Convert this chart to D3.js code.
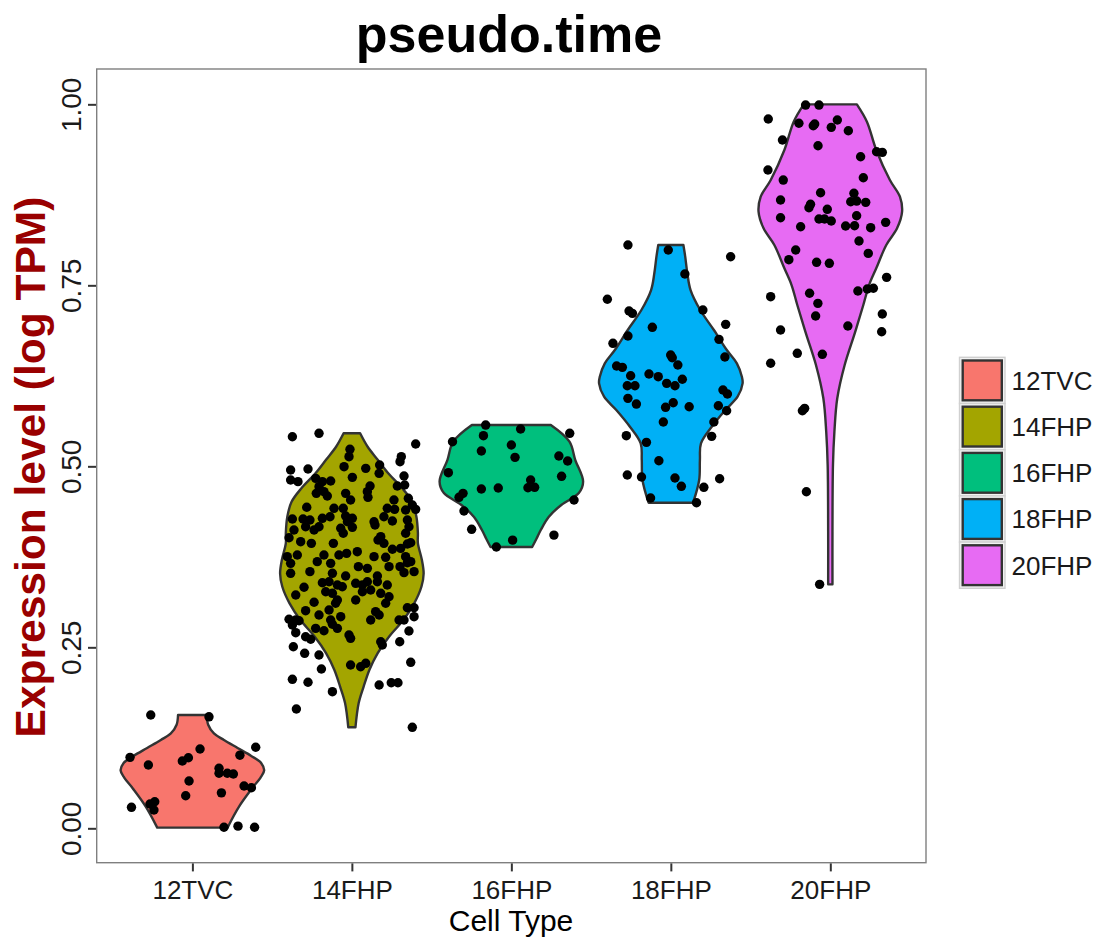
<!DOCTYPE html>
<html>
<head>
<meta charset="utf-8">
<script src="https://cdn.jsdelivr.net/npm/d3@7"></script>
<style>
  body { margin: 0; background: #fff; }
  text { font-family: "Liberation Sans", Arial, sans-serif; }
</style>
</head>
<body>
<div id="chart"></div>
<script>
const categories = ['12TVC', '14FHP', '16FHP', '18FHP', '20FHP'];
const fillColors = ['#F8766D', '#A3A500', '#00BF7D', '#00B0F6', '#E76BF3'];
const yTicks = [0, 0.25, 0.5, 0.75, 1];

// violin outlines: [value, half-width relative to the widest violin]
const violin12TVC = [[0.1565, 0.20], [0.143, 0.22], [0.131, 0.30], [0.122, 0.44], [0.111, 0.63], [0.100, 0.82],
  [0.090, 0.96], [0.080, 1.0], [0.070, 0.95], [0.055, 0.83], [0.030, 0.65], [0.001, 0.49]];
const violin14FHP = [[0.5456, 0.115], [0.527, 0.22], [0.509, 0.36], [0.490, 0.51], [0.470, 0.70], [0.451, 0.84],
  [0.430, 0.90], [0.408, 0.92], [0.394, 0.92], [0.371, 0.975], [0.352, 1.0], [0.334, 0.97], [0.311, 0.87],
  [0.288, 0.72], [0.265, 0.52], [0.242, 0.36], [0.219, 0.245], [0.196, 0.165], [0.173, 0.095], [0.1395, 0.05]];
const violin16FHP = [[0.557, 0.55], [0.534, 0.81], [0.509, 0.89], [0.479, 1.0], [0.463, 0.94], [0.447, 0.70],
  [0.430, 0.52], [0.412, 0.41], [0.400, 0.35], [0.3885, 0.29]];
const violin18FHP = [[0.8057, 0.175], [0.790, 0.20], [0.7666, 0.23], [0.7435, 0.275], [0.7159, 0.41], [0.6883, 0.60],
  [0.6606, 0.78], [0.6423, 0.92], [0.6238, 0.99], [0.6146, 1.0], [0.5961, 0.93], [0.5778, 0.76], [0.5547, 0.57],
  [0.5318, 0.42], [0.5087, 0.405], [0.4811, 0.395], [0.4497, 0.31]];
const violin20FHP = [[1.0, 0.37], [0.976, 0.51], [0.937, 0.64], [0.8955, 0.83], [0.8724, 0.97], [0.8517, 1.0],
  [0.8287, 0.93], [0.8057, 0.78], [0.7735, 0.64], [0.7504, 0.54], [0.7228, 0.46], [0.6837, 0.34], [0.64, 0.20],
  [0.594, 0.097], [0.5478, 0.057], [0.5018, 0.037], [0.41, 0.03], [0.337, 0.03]];

// jittered cells: [horizontal jitter in category units, expression value]
const points12TVC = [[-0.261, 0.1565], [0.104, 0.154], [0.048, 0.1095], [0.397, 0.112], [0.298, 0.101], [-0.391, 0.098],
  [-0.276, 0.0874], [-0.063, 0.093], [-0.025, 0.0975], [-0.021, 0.0653], [0.167, 0.0829], [0.167, 0.076], [0.219, 0.076],
  [0.257, 0.075], [0.324, 0.0584], [0.37, 0.056], [0.182, 0.049], [-0.042, 0.045], [-0.382, 0.029], [-0.266, 0.0336],
  [-0.236, 0.0367], [-0.241, 0.0253], [0.198, 0.0014], [0.286, 0.003], [0.39, 0.0014]];
const points14FHP = [[-0.373, 0.5409], [-0.206, 0.5456], [0.400, 0.5308], [-0.012, 0.5235], [-0.018, 0.5133],
  [0.310, 0.5133], [0.302, 0.5064], [-0.384, 0.4949], [-0.275, 0.4963], [-0.049, 0.4995], [0.087, 0.4972],
  [0.174, 0.5018], [0.171, 0.4903], [0.003, 0.4848], [0.327, 0.4866], [-0.384, 0.4811], [-0.338, 0.4788],
  [-0.227, 0.4834], [-0.185, 0.4788], [-0.133, 0.4797], [-0.206, 0.4719], [-0.175, 0.4650], [-0.223, 0.4627],
  [-0.154, 0.459], [0.285, 0.4728], [0.331, 0.4742], [0.114, 0.4728], [0.097, 0.4650], [0.101, 0.4572],
  [-0.039, 0.4627], [-0.008, 0.4535], [0.264, 0.4535], [0.354, 0.4558], [0.379, 0.4465], [-0.283, 0.4434],
  [-0.112, 0.442], [-0.054, 0.442], [0.222, 0.442], [0.268, 0.4406], [0.337, 0.4396], [0.400, 0.4406],
  [-0.373, 0.4272], [-0.306, 0.4272], [-0.263, 0.4258], [-0.185, 0.4282], [-0.137, 0.4304], [-0.039, 0.4314],
  [0.003, 0.4282], [-0.028, 0.4235], [0.201, 0.4304], [0.139, 0.4235], [0.254, 0.4245], [0.348, 0.4258],
  [-0.363, 0.412], [-0.290, 0.4166], [-0.237, 0.412], [-0.206, 0.4166], [-0.070, 0.4144], [-0.054, 0.4075],
  [0.003, 0.4157], [0.145, 0.4189], [0.358, 0.4166], [0.337, 0.4075], [-0.394, 0.4014], [-0.321, 0.3959],
  [-0.254, 0.3936], [-0.116, 0.3936], [0.181, 0.4028], [0.164, 0.3982], [0.201, 0.3936], [0.348, 0.3927],
  [0.369, 0.3945], [-0.405, 0.3752], [-0.342, 0.3775], [-0.175, 0.3775], [-0.081, 0.3775], [-0.033, 0.3798],
  [0.034, 0.3821], [0.139, 0.3752], [0.212, 0.3743], [0.254, 0.3854], [0.306, 0.3867], [0.337, 0.3752],
  [0.369, 0.3683], [-0.384, 0.366], [-0.217, 0.3683], [-0.133, 0.366], [0.041, 0.3614], [0.097, 0.3591],
  [0.233, 0.3614], [0.302, 0.3614], [0.348, 0.3669], [-0.384, 0.3522], [-0.263, 0.3545], [-0.122, 0.3522],
  [-0.039, 0.3485], [0.160, 0.3485], [0.327, 0.3531], [0.390, 0.3545],
  [-0.300, 0.3329], [-0.185, 0.3392], [-0.143, 0.3406], [-0.091, 0.3361], [-0.060, 0.3337], [0.024, 0.3384],
  [0.066, 0.3361], [0.097, 0.3406], [0.160, 0.3406], [0.222, 0.3361], [-0.352, 0.3222], [-0.164, 0.3268],
  [-0.122, 0.3246], [0.066, 0.3268], [0.118, 0.3291], [0.181, 0.3246], [0.233, 0.3199], [-0.091, 0.3153],
  [-0.102, 0.3108], [-0.237, 0.3122], [0.024, 0.3153], [0.212, 0.3108], [0.348, 0.3047], [0.390, 0.3047],
  [-0.290, 0.3006], [-0.143, 0.3015], [-0.206, 0.2946], [-0.070, 0.2923], [0.149, 0.2992], [0.171, 0.2946],
  [-0.394, 0.2887], [-0.352, 0.2877], [-0.331, 0.2867], [-0.133, 0.2877], [0.118, 0.2877], [0.296, 0.2877],
  [0.327, 0.2877], [0.390, 0.2923], [-0.373, 0.2808], [-0.122, 0.2818], [-0.227, 0.2762], [-0.175, 0.2729],
  [-0.091, 0.2762], [-0.352, 0.2702], [0.358, 0.2725], [-0.290, 0.2646], [-0.258, 0.2611], [-0.018, 0.267],
  [-0.008, 0.2624], [0.181, 0.2577], [0.191, 0.2532], [0.300, 0.2577], [-0.367, 0.2508], [-0.296, 0.2417],
  [-0.206, 0.2394], [-0.008, 0.2256], [0.055, 0.2232], [0.087, 0.2279], [0.369, 0.2293], [-0.191, 0.22],
  [-0.373, 0.2058], [-0.275, 0.2017], [-0.122, 0.1887], [0.171, 0.1979], [0.247, 0.2011], [0.289, 0.2011],
  [-0.348, 0.1648], [0.379, 0.1395]];
const points16FHP = [[-0.161, 0.557], [0.058, 0.5515], [0.366, 0.5456], [-0.369, 0.534], [-0.175, 0.5423],
  [0.0, 0.5294], [-0.188, 0.5211], [0.023, 0.5124], [0.298, 0.5142], [0.353, 0.5073], [-0.395, 0.4912],
  [0.315, 0.4862], [0.121, 0.4811], [0.104, 0.4704], [0.146, 0.471], [-0.188, 0.4687], [-0.082, 0.47],
  [-0.303, 0.4627], [-0.328, 0.4572], [0.393, 0.4535], [-0.297, 0.4383], [-0.249, 0.413], [0.267, 0.405],
  [0.008, 0.398], [-0.094, 0.3885]];
const points18FHP = [[-0.269, 0.8057], [-0.016, 0.7988], [0.375, 0.7895], [0.088, 0.7656], [-0.398, 0.7307],
  [0.201, 0.7159], [-0.262, 0.7145], [-0.241, 0.7113], [-0.116, 0.692], [0.344, 0.6961], [-0.269, 0.68],
  [0.302, 0.6754], [-0.363, 0.6699], [-0.001, 0.6537], [0.009, 0.65], [0.044, 0.6399], [0.339, 0.651],
  [-0.340, 0.6385], [-0.304, 0.6367], [-0.252, 0.6251], [-0.137, 0.6275], [-0.079, 0.6238], [0.072, 0.6202],
  [-0.026, 0.6146], [0.026, 0.6113], [-0.273, 0.6113], [-0.225, 0.6113], [0.327, 0.6054], [0.355, 0.5999],
  [-0.269, 0.5939], [-0.216, 0.586], [-0.033, 0.5815], [0.015, 0.5878], [0.115, 0.5823], [0.298, 0.5837],
  [0.350, 0.5768], [-0.047, 0.5612], [0.270, 0.5612], [-0.279, 0.5423], [-0.153, 0.5331], [0.256, 0.5414],
  [-0.075, 0.5077], [-0.273, 0.488], [-0.184, 0.4852], [0.026, 0.4838], [0.066, 0.4724], [0.207, 0.471],
  [0.306, 0.4829], [-0.127, 0.4562], [0.161, 0.4497]];
const points20FHP = [[-0.155, 0.999], [-0.071, 0.999], [-0.389, 0.9797], [-0.197, 0.9738], [-0.098, 0.9728],
  [-0.107, 0.9704], [0.044, 0.9783], [0.006, 0.9682], [0.113, 0.9635], [-0.300, 0.9507], [-0.077, 0.9428],
  [0.290, 0.9345], [0.326, 0.9337], [0.190, 0.9276], [-0.391, 0.9093], [-0.295, 0.8954], [0.207, 0.8986],
  [-0.061, 0.8779], [0.148, 0.8771], [-0.312, 0.8678], [-0.124, 0.8619], [-0.134, 0.8572], [0.128, 0.8655],
  [0.165, 0.8664], [0.222, 0.8646], [-0.019, 0.855], [-0.312, 0.8434], [-0.071, 0.8416], [-0.036, 0.8416],
  [0.006, 0.8388], [-0.186, 0.8309], [0.096, 0.8319], [0.152, 0.8323], [0.165, 0.8461], [0.253, 0.8296],
  [0.347, 0.837], [0.180, 0.8112], [-0.217, 0.7988], [0.238, 0.7942], [-0.260, 0.7854], [-0.086, 0.7818],
  [-0.006, 0.7804], [0.353, 0.761], [-0.374, 0.7343], [-0.130, 0.739], [-0.078, 0.7251], [0.173, 0.7421],
  [0.232, 0.7449], [0.270, 0.7459], [-0.092, 0.7076], [0.326, 0.7104], [0.110, 0.6938], [-0.312, 0.6883],
  [0.322, 0.6859], [-0.207, 0.6561], [-0.050, 0.6547], [-0.374, 0.6423], [-0.175, 0.5768], [-0.161, 0.5801],
  [-0.150, 0.4649], [-0.067, 0.337]];

const violins = [violin12TVC, violin14FHP, violin16FHP, violin18FHP, violin20FHP];
const pointSets = [points12TVC, points14FHP, points16FHP, points18FHP, points20FHP];

const W = 1098, H = 943;
const panel = { left: 96.7, right: 926, top: 69, bottom: 862.7 };
const font = '"Liberation Sans", Arial, sans-serif';

const svg = d3.select('#chart').append('svg')
  .attr('width', W).attr('height', H)
  .style('display', 'block');

const x = d3.scalePoint().domain(categories).range([panel.left, panel.right]).padding(0.6);
const y = d3.scaleLinear().domain([-0.0475, 1.0488]).range([panel.bottom, panel.top]);
const maxHalf = x.step() * 0.45;

// violins
categories.forEach((cat, i) => {
  const cx = x(cat);
  const area = d3.area()
    .y(d => y(d[0]))
    .x0(d => cx - d[1] * maxHalf)
    .x1(d => cx + d[1] * maxHalf)
    .curve(d3.curveCatmullRom.alpha(0.5));
  svg.append('path')
    .datum(violins[i])
    .attr('d', area)
    .attr('fill', fillColors[i])
    .attr('stroke', '#333333')
    .attr('stroke-width', 2.4)
    .attr('stroke-linejoin', 'round');
});

// jittered points
categories.forEach((cat, i) => {
  svg.append('g')
    .selectAll('circle')
    .data(pointSets[i])
    .join('circle')
    .attr('cx', d => x(cat) + d[0] * x.step())
    .attr('cy', d => y(d[1]))
    .attr('r', 4.7)
    .attr('fill', '#000');
});

// panel border
svg.append('rect')
  .attr('x', panel.left).attr('y', panel.top)
  .attr('width', panel.right - panel.left).attr('height', panel.bottom - panel.top)
  .attr('fill', 'none').attr('stroke', '#7f7f7f').attr('stroke-width', 1.4);

// x axis
const xAxis = svg.append('g')
  .attr('transform', `translate(0,${panel.bottom + 0.7})`)
  .call(d3.axisBottom(x).tickSize(8).tickPadding(6));
xAxis.select('.domain').remove();
xAxis.selectAll('line').attr('stroke', '#333').attr('stroke-width', 2);
xAxis.selectAll('text')
  .attr('font-family', font).attr('font-size', 26).attr('fill', '#1a1a1a')
  .attr('dy', null).attr('y', 35.5);

// y axis
const yAxis = svg.append('g')
  .attr('transform', `translate(${panel.left - 0.7},0)`)
  .call(d3.axisLeft(y).tickValues(yTicks).tickFormat(d3.format('.2f')).tickSize(8));
yAxis.select('.domain').remove();
yAxis.selectAll('line').attr('stroke', '#333').attr('stroke-width', 2);
yAxis.selectAll('text')
  .attr('font-family', font).attr('font-size', 28).attr('fill', '#1a1a1a')
  .attr('x', null).attr('dy', null)
  .attr('text-anchor', 'middle')
  .attr('transform', 'translate(-15,0) rotate(-90)');

// titles
svg.append('text')
  .attr('x', 509).attr('y', 51.5)
  .attr('text-anchor', 'middle')
  .attr('font-family', font).attr('font-weight', 'bold').attr('font-size', 52)
  .text('pseudo.time');

svg.append('text')
  .attr('x', 511).attr('y', 931)
  .attr('text-anchor', 'middle')
  .attr('font-family', font).attr('font-size', 30)
  .text('Cell Type');

svg.append('text')
  .attr('transform', 'translate(45,467) rotate(-90)')
  .attr('text-anchor', 'middle')
  .attr('font-family', font).attr('font-weight', 'bold').attr('font-size', 42.5)
  .attr('fill', '#990000')
  .text('Expression level (log TPM)');

// legend
const keyH = 46.2;
const legend = svg.append('g').attr('transform', 'translate(959.5,357.3)');
const key = legend.selectAll('g')
  .data(categories)
  .join('g')
  .attr('transform', (d, i) => `translate(0,${i * keyH})`);
key.append('rect')
  .attr('width', 45.5).attr('height', keyH)
  .attr('fill', '#f2f2f2').attr('stroke', '#d0d0d0').attr('stroke-width', 1.4);
key.append('rect')
  .attr('x', 3.2).attr('y', 3.2)
  .attr('width', 39.1).attr('height', keyH - 6.4)
  .attr('fill', (d, i) => fillColors[i])
  .attr('stroke', '#333333').attr('stroke-width', 2.4);
key.append('text')
  .attr('x', 52).attr('y', keyH / 2 + 9.5)
  .attr('font-family', font).attr('font-size', 26).attr('fill', '#1a1a1a')
  .text(d => d);
</script>
</body>
</html>
